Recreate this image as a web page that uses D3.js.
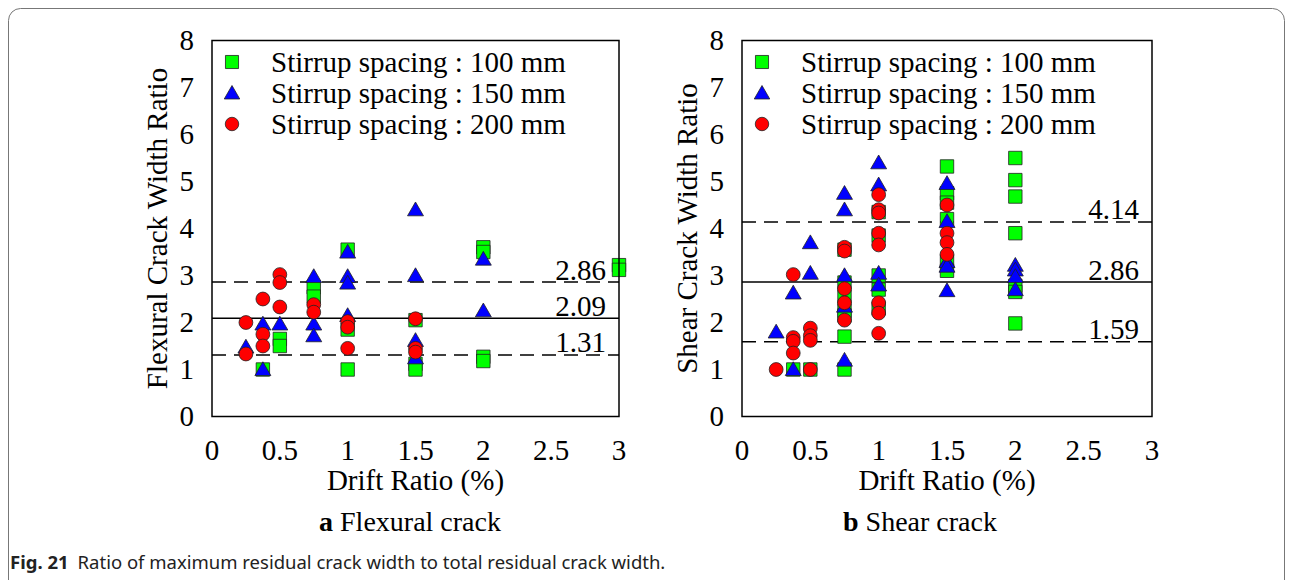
<!DOCTYPE html>
<html>
<head>
<meta charset="utf-8">
<script src="https://cdn.jsdelivr.net/npm/d3@7/dist/d3.min.js"></script>
<style>
  html, body { margin: 0; padding: 0; background: #fff; }
  svg { display: block; }
</style>
</head>
<body>
<svg id="fig" width="1293" height="580"></svg>
<script>
// ---- data: [drift ratio (%), crack width ratio] ----
const flexural100 = [
  [0.375, 1.0], [0.5, 1.65], [0.5, 1.5], [0.75, 2.75], [0.75, 2.55],
  [1, 3.55], [1, 1.85], [1, 1.0], [1.5, 2.05], [1.5, 1.12], [1.5, 1.0],
  [2, 3.6], [2, 3.5], [2, 1.27], [2, 1.18], [3, 3.22], [3, 3.12]
];
const flexural150 = [
  [0.25, 1.48], [0.375, 1.97], [0.375, 1.0], [0.5, 1.97],
  [0.75, 2.98], [0.75, 1.97], [0.75, 1.72],
  [1, 3.5], [1, 2.98], [1, 2.84], [1, 2.15],
  [1.5, 4.4], [1.5, 3.0], [1.5, 1.62], [1.5, 1.25],
  [2, 3.35], [2, 2.25]
];
const flexural200 = [
  [0.25, 2.0], [0.25, 1.33], [0.375, 2.5], [0.375, 1.75], [0.375, 1.5],
  [0.5, 3.02], [0.5, 2.85], [0.5, 2.33], [0.75, 2.38], [0.75, 2.22],
  [1, 2.02], [1, 1.9], [1, 1.45], [1.5, 2.08], [1.5, 1.45], [1.5, 1.37]
];
const shear100 = [
  [0.375, 1.0], [0.5, 1.0],
  [0.75, 3.55], [0.75, 2.85], [0.75, 2.55], [0.75, 2.25], [0.75, 2.15], [0.75, 1.7], [0.75, 1.0],
  [1, 4.35], [1, 3.85], [1, 3.0], [1, 2.7], [1, 2.3],
  [1.5, 5.32], [1.5, 4.75], [1.5, 4.55], [1.5, 4.2], [1.5, 3.3], [1.5, 3.1],
  [2, 5.5], [2, 5.03], [2, 4.68], [2, 3.9], [2, 2.78], [2, 2.65], [2, 1.98]
];
const shear150 = [
  [0.25, 1.8], [0.375, 2.63], [0.375, 1.0], [0.5, 3.7], [0.5, 3.05],
  [0.75, 4.75], [0.75, 4.4], [0.75, 3.0], [0.75, 2.35], [0.75, 1.2],
  [1, 5.4], [1, 4.93], [1, 3.05], [1, 2.8],
  [1.5, 4.96], [1.5, 4.15], [1.5, 3.3], [1.5, 3.2], [1.5, 2.68],
  [2, 3.22], [2, 3.12], [2, 2.98], [2, 2.7]
];
const shear200 = [
  [0.25, 1.0], [0.375, 3.02], [0.375, 1.68], [0.375, 1.6], [0.375, 1.35],
  [0.5, 1.88], [0.5, 1.72], [0.5, 1.62], [0.5, 1.0],
  [0.75, 3.6], [0.75, 3.52], [0.75, 2.72], [0.75, 2.42], [0.75, 2.05],
  [1, 4.72], [1, 4.4], [1, 4.33], [1, 3.9], [1, 3.65], [1, 2.42], [1, 2.2], [1, 1.77],
  [1.5, 4.5], [1.5, 3.9], [1.5, 3.7], [1.5, 3.45]
];

// reference levels (mean and mean ± standard deviation)
const flexuralLines = [2.86, 2.09, 1.31];
const shearLines = [4.14, 2.86, 1.59];

const xTicks = [0, 0.5, 1, 1.5, 2, 2.5, 3];
const yTicks = [0, 1, 2, 3, 4, 5, 6, 7, 8];
const seriesNames = ["Stirrup spacing : 100 mm", "Stirrup spacing : 150 mm", "Stirrup spacing : 200 mm"];

// ---- drawing ----
const svg = d3.select("#fig");
const serif = "'Liberation Serif', 'Times New Roman', serif";
const FS = 29;

// outer frame of the figure
svg.append("rect")
  .attr("x", 8.5).attr("y", 8.5).attr("width", 1276).attr("height", 640)
  .attr("rx", 12).attr("ry", 12)
  .attr("fill", "none").attr("stroke", "#777").attr("stroke-width", 1);

const markerStyle = [
  { type: d3.symbolSquare, size: 180, fill: "#00ff00" },
  { type: d3.symbolTriangle, size: 110, fill: "#0000ff" },
  { type: d3.symbolCircle, size: 150, fill: "#ff0000" }
];

function drawPanel(opts) {
  const g = svg.append("g");
  const x = d3.scaleLinear().domain([0, 3]).range([opts.left, opts.right]);
  const y = d3.scaleLinear().domain([0, 8]).range([416.5, 40.5]);

  // x tick labels
  g.append("g").selectAll("text").data(xTicks).join("text")
    .attr("x", d => x(d)).attr("y", 460)
    .attr("text-anchor", "middle")
    .attr("font-family", serif).attr("font-size", FS)
    .text(d => d);

  // y tick labels
  g.append("g").selectAll("text").data(yTicks).join("text")
    .attr("x", opts.left - 18).attr("y", d => y(d))
    .attr("dy", "0.33em")
    .attr("text-anchor", "end")
    .attr("font-family", serif).attr("font-size", FS)
    .text(d => d);

  // axis titles
  g.append("text")
    .attr("x", (opts.left + opts.right) / 2).attr("y", 490)
    .attr("text-anchor", "middle")
    .attr("font-family", serif).attr("font-size", FS)
    .text("Drift Ratio (%)");
  g.append("text")
    .attr("transform", `translate(${opts.yTitleX},${(y(0) + y(8)) / 2}) rotate(-90)`)
    .attr("text-anchor", "middle")
    .attr("font-family", serif).attr("font-size", FS)
    .text(opts.yTitle);

  // reference lines with value labels
  opts.lines.forEach((v, i) => {
    g.append("line")
      .attr("x1", x(0)).attr("x2", x(3))
      .attr("y1", y(v)).attr("y2", y(v))
      .attr("stroke", "#000").attr("stroke-width", 1.5)
      .attr("stroke-dasharray", i === 1 ? null : "14,8");
    g.append("text")
      .attr("x", x(3) - 13).attr("y", y(v) - 2.5)
      .attr("text-anchor", "end")
      .attr("font-family", serif).attr("font-size", FS)
      .text(v.toFixed(2));
  });

  // data markers: 100 mm squares, then 150 mm triangles, then 200 mm circles on top
  opts.series.forEach((data, i) => {
    const s = markerStyle[i];
    g.append("g").selectAll("path").data(data).join("path")
      .attr("transform", d => `translate(${x(d[0])},${y(d[1]) + (i === 1 ? 1.5 : 0)})`)
      .attr("d", d3.symbol().type(s.type).size(s.size))
      .attr("fill", s.fill).attr("stroke", "#222").attr("stroke-width", 0.8);
  });

  // legend
  const lg = g.append("g");
  seriesNames.forEach((name, i) => {
    const s = markerStyle[i];
    const cy = 62 + i * 31;
    lg.append("path")
      .attr("transform", `translate(${opts.left + 20},${cy + (i === 1 ? 1.5 : 0)})`)
      .attr("d", d3.symbol().type(s.type).size(s.size * 0.95))
      .attr("fill", s.fill).attr("stroke", "#222").attr("stroke-width", 0.8);
    lg.append("text")
      .attr("x", opts.left + 59).attr("y", cy).attr("dy", "0.33em")
      .attr("font-family", serif).attr("font-size", FS)
      .text(name);
  });

  // plot area border
  g.append("rect")
    .attr("x", x(0)).attr("y", y(8))
    .attr("width", x(3) - x(0)).attr("height", y(0) - y(8))
    .attr("fill", "none").attr("stroke", "#000").attr("stroke-width", 1.5);

  // panel caption
  const cap = g.append("text")
    .attr("x", opts.capX).attr("y", 531)
    .attr("text-anchor", "middle")
    .attr("font-family", serif).attr("font-size", 28);
  cap.append("tspan").attr("font-weight", "bold").text(opts.capLetter);
  cap.append("tspan").text(" " + opts.capText);
}

drawPanel({
  left: 212, right: 619, yTitleX: 167,
  yTitle: "Flexural Crack Width Ratio",
  lines: flexuralLines,
  series: [flexural100, flexural150, flexural200],
  capX: 410, capLetter: "a", capText: "Flexural crack"
});
drawPanel({
  left: 742, right: 1152, yTitleX: 697,
  yTitle: "Shear Crack Width Ratio",
  lines: shearLines,
  series: [shear100, shear150, shear200],
  capX: 920, capLetter: "b", capText: "Shear crack"
});

// figure caption
const fig = svg.append("text")
  .attr("x", 10).attr("y", 569)
  .attr("font-family", "'Noto Sans', 'Open Sans', sans-serif")
  .attr("font-size", 18.5).attr("fill", "#222");
fig.append("tspan").attr("font-weight", "bold").text("Fig. 21");
fig.append("tspan").attr("dx", 9).text("Ratio of maximum residual crack width to total residual crack width.");
</script>
</body>
</html>
